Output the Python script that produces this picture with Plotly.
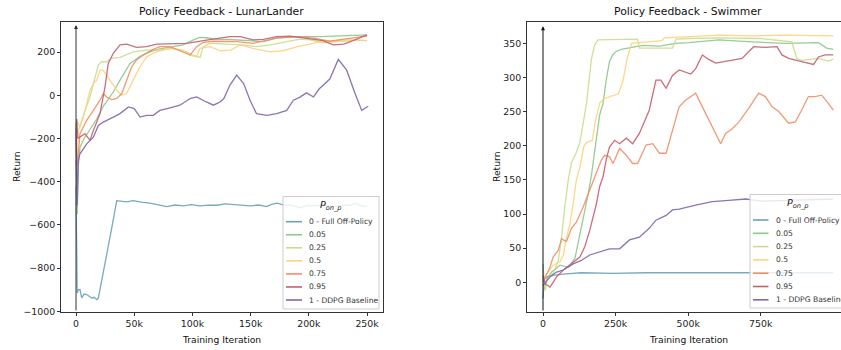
import plotly.graph_objects as go

W, H = 841, 350

series_names = ["0 - Full Off-Policy", "0.05", "0.25", "0.5", "0.75", "0.95", "1 - DDPG Baseline"]
series_colors = ["#6aa2b8", "#8ec78c", "#c9de8c", "#fdd47c", "#ef9068", "#c65f70", "#7f67ab"]

# ---------------- LunarLander ----------------
ll_off_x = [0, 500, 1000, 2000, 3400, 4900, 7000, 9200, 11000, 13500, 15500, 17800, 19200, 22500, 26300,
            30500, 35000, 39000, 43500, 49200, 56000, 63600, 70000, 78000, 85000, 92300, 99000, 106500,
            114000, 121000, 128000, 135200, 142000, 149500, 157000, 163800, 168000, 172400, 178000, 183800,
            188000, 192500, 199000, 206800, 214000, 221000, 228000, 235600, 240000, 244000, 249700]
ll_off_y = [-420, -880, -915, -900, -899, -938, -920, -922, -930, -938, -935, -946, -938, -850, -740,
            -620, -488, -490, -493, -488, -495, -499, -505, -515, -508, -512, -506, -512,
            -508, -509, -503, -505, -510, -512, -508, -515, -505, -499, -507, -509,
            -514, -520, -510, -512, -508, -515, -510, -509, -500, -509, -515]

ll_005_x = [0, 1000, 2000, 3400, 7000, 12000, 17800, 23500, 32000, 37800, 46400, 55000, 63600, 72000,
            83500, 92000, 100800, 106500, 112000, 121000, 132000, 149500, 161000, 172000, 190000, 210000,
            230000, 250000]
ll_005_y = [-300, -550, -330, -240, -200, -160, -110, -50, 15, 70, 147, 180, 201, 215,
            225, 233, 256, 268, 266, 259, 258, 253, 248, 264, 271, 271, 274, 279]

ll_025_x = [0, 1000, 3400, 7700, 12000, 14900, 19200, 22000, 26300, 30600, 37800, 49200, 60700, 72000,
            83500, 95000, 101000, 106500, 109400, 115000, 125000, 133000, 144000, 155000, 167000, 181000,
            192500, 201000, 212000, 224000, 235000, 250000]
ll_025_y = [-200, -120, -147, -70, -8, 47, 140, 155, 155, 171, 175, 201, 209, 209,
            217, 201, 185, 175, 225, 240, 237, 235, 233, 225, 233, 248,
            260, 256, 243, 248, 256, 253]

ll_05_x = [0, 1000, 2000, 6300, 9200, 12000, 14900, 17800, 20600, 23000, 26300, 29000, 32000, 35000,
           39000, 43500, 49000, 55000, 60700, 69300, 80800, 92000, 98000, 103600, 106500, 115000, 124000,
           133000, 141000, 152000, 167000, 178000, 190000, 201000, 212000, 230000, 241000, 250000]
ll_05_y = [-250, -300, -163, -101, -39, 23, 54, 70, 116, 116, 93, 70, 47, 23,
           0, 8, 70, 132, 178, 201, 217, 209, 186, 178, 217, 225, 206,
           209, 233, 217, 201, 206, 225, 237, 253, 250, 256, 253]

ll_075_x = [0, 1000, 3400, 9200, 14900, 20600, 23500, 26300, 30600, 35000, 39300, 43500, 47800, 52000,
            57800, 65000, 72000, 80800, 92000, 98000, 103600, 109400, 118000, 138000, 152000, 172000,
            190000, 204000, 218000, 235000, 250000]
ll_075_y = [-200, -330, -178, -116, -70, -23, 8, -8, -20, -15, 8, 70, 132, 163,
            186, 209, 225, 225, 201, 186, 225, 245, 250, 248, 240, 264,
            271, 264, 250, 264, 275]

ll_095_x = [0, 600, 1500, 3400, 7700, 12000, 14900, 20600, 24900, 27700, 32000, 37800, 43500, 52000,
            60700, 69300, 80800, 95000, 109400, 121000, 132000, 141000, 152000, 161000, 172400, 184000,
            192000, 201000, 212000, 221000, 230000, 238000, 250000]
ll_095_y = [-150, -110, -200, -194, -178, -209, -163, -85, 39, 147, 194, 233, 237, 222,
            225, 237, 237, 240, 253, 264, 271, 271, 256, 259, 271, 274,
            268, 264, 253, 233, 237, 253, 279]

ll_1_x = [0, 500, 1000, 2000, 3400, 9200, 14900, 19200, 23500, 32000, 37800, 45000, 50000, 55000,
          60700, 66400, 72000, 80800, 89300, 98000, 103600, 112000, 118000, 123700, 127000, 132000,
          138000, 144000, 149500, 155000, 163800, 172400, 181000, 186700, 192000, 198000, 204000,
          209000, 213000, 218000, 225300, 232500, 239700, 245400, 251000]
ll_1_y = [-150, -420, -510, -300, -271, -225, -194, -140, -124, -101, -85, -54, -62, -101,
          -93, -93, -70, -58, -46, -15, -8, -31, -46, -31, -15, 45,
          93, 54, -23, -85, -93, -85, -70, -23, -10, 11, -8,
          30, 50, 75, 166, 116, 8, -70, -51]

ll_xticks = [0, 50000, 100000, 150000, 200000, 250000]
ll_xticktext = ["0", "50k", "100k", "150k", "200k", "250k"]
ll_yticks = [-1000, -800, -600, -400, -200, 0, 200]
ll_yticktext = ["\u22121000", "\u2212800", "\u2212600", "\u2212400", "\u2212200", "0", "200"]

# ---------------- Swimmer ----------------
sw_off_x = [0, 5000, 13000, 35000, 70000, 127000, 132000, 241000, 355000, 492000, 600000, 750000, 900000, 1000000]
sw_off_y = [-24, 5, 8, 10, 12, 13, 14, 13, 14, 14, 14, 13, 14, 14]

sw_005_x = [0, 5000, 13000, 30000, 58000, 87000, 110000, 132000, 155000, 167000, 180000, 195000, 207000,
            218000, 229000, 240000, 252000, 270000, 292000, 343000, 400000, 458000, 503000, 606000, 720000,
            835000, 949000, 977000, 1000000]
sw_005_y = [27, -10, 5, 15, 25, 22, 35, 79, 128, 157, 200, 245, 262,
            297, 323, 333, 338, 341, 343, 347, 346, 350, 351, 355, 352,
            350, 351, 343, 341]

sw_025_x = [0, 8000, 13000, 35000, 53000, 64000, 75000, 87000, 98000, 115000, 127000, 150000, 167000,
            178000, 189000, 229000, 298000, 326000, 332000, 355000, 446000, 458000, 503000, 600000, 750000,
            835000, 857000, 874000, 891000, 949000, 983000, 1000000]
sw_025_y = [5, -12, 3, 13, 32, 66, 110, 150, 175, 190, 205, 262, 328,
            347, 355, 355, 356, 356, 343, 343, 343, 356, 357, 358, 357,
            353, 352, 328, 325, 328, 324, 327]

sw_05_x = [0, 13000, 35000, 58000, 70000, 81000, 92000, 104000, 115000, 127000, 140000, 150000, 170000,
           180000, 195000, 210000, 260000, 275000, 290000, 305000, 332000, 410000, 418000, 492000, 606000,
           720000, 835000, 1000000]
sw_05_y = [5, 12, 25, 30, 40, 66, 84, 115, 150, 168, 198, 205, 208,
           235, 262, 269, 276, 294, 328, 350, 351, 354, 358, 360, 362,
           361, 362, 361]

sw_075_x = [0, 13000, 24000, 35000, 53000, 64000, 70000, 81000, 98000, 115000, 138000, 161000, 184000,
            201000, 212000, 229000, 241000, 264000, 287000, 309000, 326000, 355000, 378000, 401000, 424000,
            446000, 469000, 492000, 526000, 543000, 572000, 595000, 612000, 629000, 652000, 675000, 709000,
            743000, 766000, 789000, 812000, 846000, 869000, 891000, 914000, 937000, 960000, 983000, 1000000]
sw_075_y = [0, 13, 22, 37, 47, 64, 62, 60, 79, 88, 110, 135, 159,
            179, 186, 184, 174, 196, 186, 174, 174, 201, 203, 189, 189,
            223, 257, 267, 277, 262, 238, 218, 203, 218, 225, 235, 255,
            277, 272, 257, 250, 233, 235, 252, 272, 272, 274, 262, 252]

sw_095_x = [0, 7000, 24000, 47000, 70000, 104000, 127000, 144000, 161000, 184000, 195000, 207000, 218000,
            229000, 247000, 264000, 287000, 309000, 332000, 366000, 389000, 406000, 424000, 446000, 469000,
            509000, 526000, 549000, 572000, 595000, 640000, 686000, 709000, 726000, 766000, 806000, 823000,
            846000, 891000, 932000, 949000, 971000, 1000000]
sw_095_y = [10, -2, -7, 8, 18, 30, 37, 52, 76, 115, 140, 155, 180,
            198, 208, 203, 211, 203, 218, 252, 296, 296, 284, 303, 311,
            305, 313, 333, 326, 321, 325, 328, 338, 345, 344, 345, 333,
            328, 323, 319, 330, 333, 333]

sw_1_x = [0, 5000, 24000, 47000, 70000, 104000, 132000, 161000, 195000, 229000, 264000, 298000, 332000,
          366000, 389000, 424000, 446000, 469000, 526000, 583000, 640000, 698000, 755000, 835000, 1000000]
sw_1_y = [-5, -2, 8, 15, 18, 27, 32, 40, 44, 49, 49, 62, 66,
          79, 91, 98, 106, 107, 113, 118, 120, 122, 119, 120, 122]

sw_xticks = [0, 250000, 500000, 750000]
sw_xticktext = ["0", "250k", "500k", "750k"]
sw_yticks = [0, 50, 100, 150, 200, 250, 300, 350]
sw_yticktext = ["0", "50", "100", "150", "200", "250", "300", "350"]

titles = ["Policy Feedback - LunarLander", "Policy Feedback - Swimmer"]
x_label = "Training Iteration"
y_label = "Return"
legend_title = "<i>P</i><sub><i>on_p</i></sub>"

ll_series = [(ll_off_x, ll_off_y), (ll_005_x, ll_005_y), (ll_025_x, ll_025_y), (ll_05_x, ll_05_y),
             (ll_075_x, ll_075_y), (ll_095_x, ll_095_y), (ll_1_x, ll_1_y)]
sw_series = [(sw_off_x, sw_off_y), (sw_005_x, sw_005_y), (sw_025_x, sw_025_y), (sw_05_x, sw_05_y),
             (sw_075_x, sw_075_y), (sw_095_x, sw_095_y), (sw_1_x, sw_1_y)]


def PX(px):
    return px / W


def PY(py):
    return 1 - py / H


FONT = "DejaVu Sans"
fig = go.Figure()

for (xs, ys), name, col in zip(ll_series, series_names, series_colors):
    fig.add_trace(go.Scatter(x=xs, y=ys, mode="lines", name=name, showlegend=False,
                             line=dict(color=col, width=1.3), opacity=0.9, xaxis="x", yaxis="y"))
for (xs, ys), name, col in zip(sw_series, series_names, series_colors):
    fig.add_trace(go.Scatter(x=xs, y=ys, mode="lines", name=name, showlegend=False,
                             line=dict(color=col, width=1.3), opacity=0.9, xaxis="x2", yaxis="y2"))

axis_common = dict(showgrid=False, zeroline=False, ticks="outside", ticklen=3, tickwidth=1,
                   tickcolor="#333", showline=True, linecolor="#333", linewidth=1, automargin=False,
                   tickfont=dict(family=FONT, size=9.4, color="#222"))

ydom = [PY(312), PY(22)]
fig.update_layout(
    width=W, height=H, autosize=False,
    margin=dict(l=0, r=0, t=0, b=0),
    paper_bgcolor="white", plot_bgcolor="white",
    showlegend=False,
    xaxis=dict(domain=[PX(61), PX(383)], range=[-12900, 263700], anchor="y",
               tickvals=ll_xticks, ticktext=ll_xticktext, mirror=True, **axis_common),
    yaxis=dict(domain=ydom, range=[-1003, 339], anchor="x",
               tickvals=ll_yticks, ticktext=ll_yticktext, mirror=True, **axis_common),
    xaxis2=dict(domain=[PX(527), 1.0], range=[-55100, 1026500], anchor="y2",
                tickvals=sw_xticks, ticktext=sw_xticktext, mirror=True, **axis_common),
    yaxis2=dict(domain=ydom, range=[-43.5, 381.2], anchor="x2",
                tickvals=sw_yticks, ticktext=sw_yticktext, mirror=False, **axis_common),
)

annotations = []
shapes = []

# titles and axis labels
for cx, title in zip([222, 688], titles):
    annotations.append(dict(xref="paper", yref="paper", x=PX(cx), y=PY(11), text=title, showarrow=False,
                            xanchor="center", yanchor="middle",
                            font=dict(family=FONT, size=10.8, color="#111")))
    annotations.append(dict(xref="paper", yref="paper", x=PX(cx), y=PY(339), text=x_label, showarrow=False,
                            xanchor="center", yanchor="middle",
                            font=dict(family=FONT, size=9.2, color="#111")))
for cx in [17, 497]:
    annotations.append(dict(xref="paper", yref="paper", x=PX(cx), y=PY(167), text=y_label, showarrow=False,
                            textangle=-90, xanchor="center", yanchor="middle",
                            font=dict(family=FONT, size=9.2, color="#111")))

# vertical arrows at x = 0
annotations.append(dict(xref="x", yref="y", x=0, y=325, ax=0, ay=-1003, axref="x", ayref="y",
                        text="", showarrow=True, arrowhead=2, arrowsize=0.8, arrowwidth=1,
                        arrowcolor="#333"))
annotations.append(dict(xref="x2", yref="y2", x=0, y=375, ax=0, ay=-43.5, axref="x2", ayref="y2",
                        text="", showarrow=True, arrowhead=2, arrowsize=0.8, arrowwidth=1,
                        arrowcolor="#111"))

# manual legends (compact, matplotlib-like)
legend_specs = [
    dict(box=(283, 196.5, 379, 309), line=(286, 302), tx=307, y0=221.7, dy=13.05, title=(331, 206)),
    dict(box=(750, 194.5, 846, 308), line=(753, 768.5), tx=774, y0=220.0, dy=13.3, title=(798, 203)),
]
for spec in legend_specs:
    x0, y0, x1, y1 = spec["box"]
    shapes.append(dict(type="rect", xref="paper", yref="paper", x0=PX(x0), x1=PX(x1), y0=PY(y1), y1=PY(y0),
                       line=dict(color="#cccccc", width=1), fillcolor="rgba(255,255,255,0.82)",
                       layer="above"))
    tx_, ty_ = spec["title"]
    annotations.append(dict(xref="paper", yref="paper", x=PX(tx_), y=PY(ty_), text=legend_title,
                            showarrow=False, xanchor="center", yanchor="middle",
                            font=dict(family=FONT, size=9.5, color="#222")))
    for i, (name, col) in enumerate(zip(series_names, series_colors)):
        yy = spec["y0"] + i * spec["dy"]
        shapes.append(dict(type="line", xref="paper", yref="paper", x0=PX(spec["line"][0]),
                           x1=PX(spec["line"][1]), y0=PY(yy), y1=PY(yy),
                           line=dict(color=col, width=1.6), layer="above"))
        annotations.append(dict(xref="paper", yref="paper", x=PX(spec["tx"]), y=PY(yy), text=name,
                                showarrow=False, xanchor="left", yanchor="middle",
                                font=dict(family=FONT, size=7.6, color="#333")))

fig.update_layout(annotations=annotations, shapes=shapes)

fig.write_html("out.html", config={"displayModeBar": False},
               post_script="document.body.style.margin='0px';")
